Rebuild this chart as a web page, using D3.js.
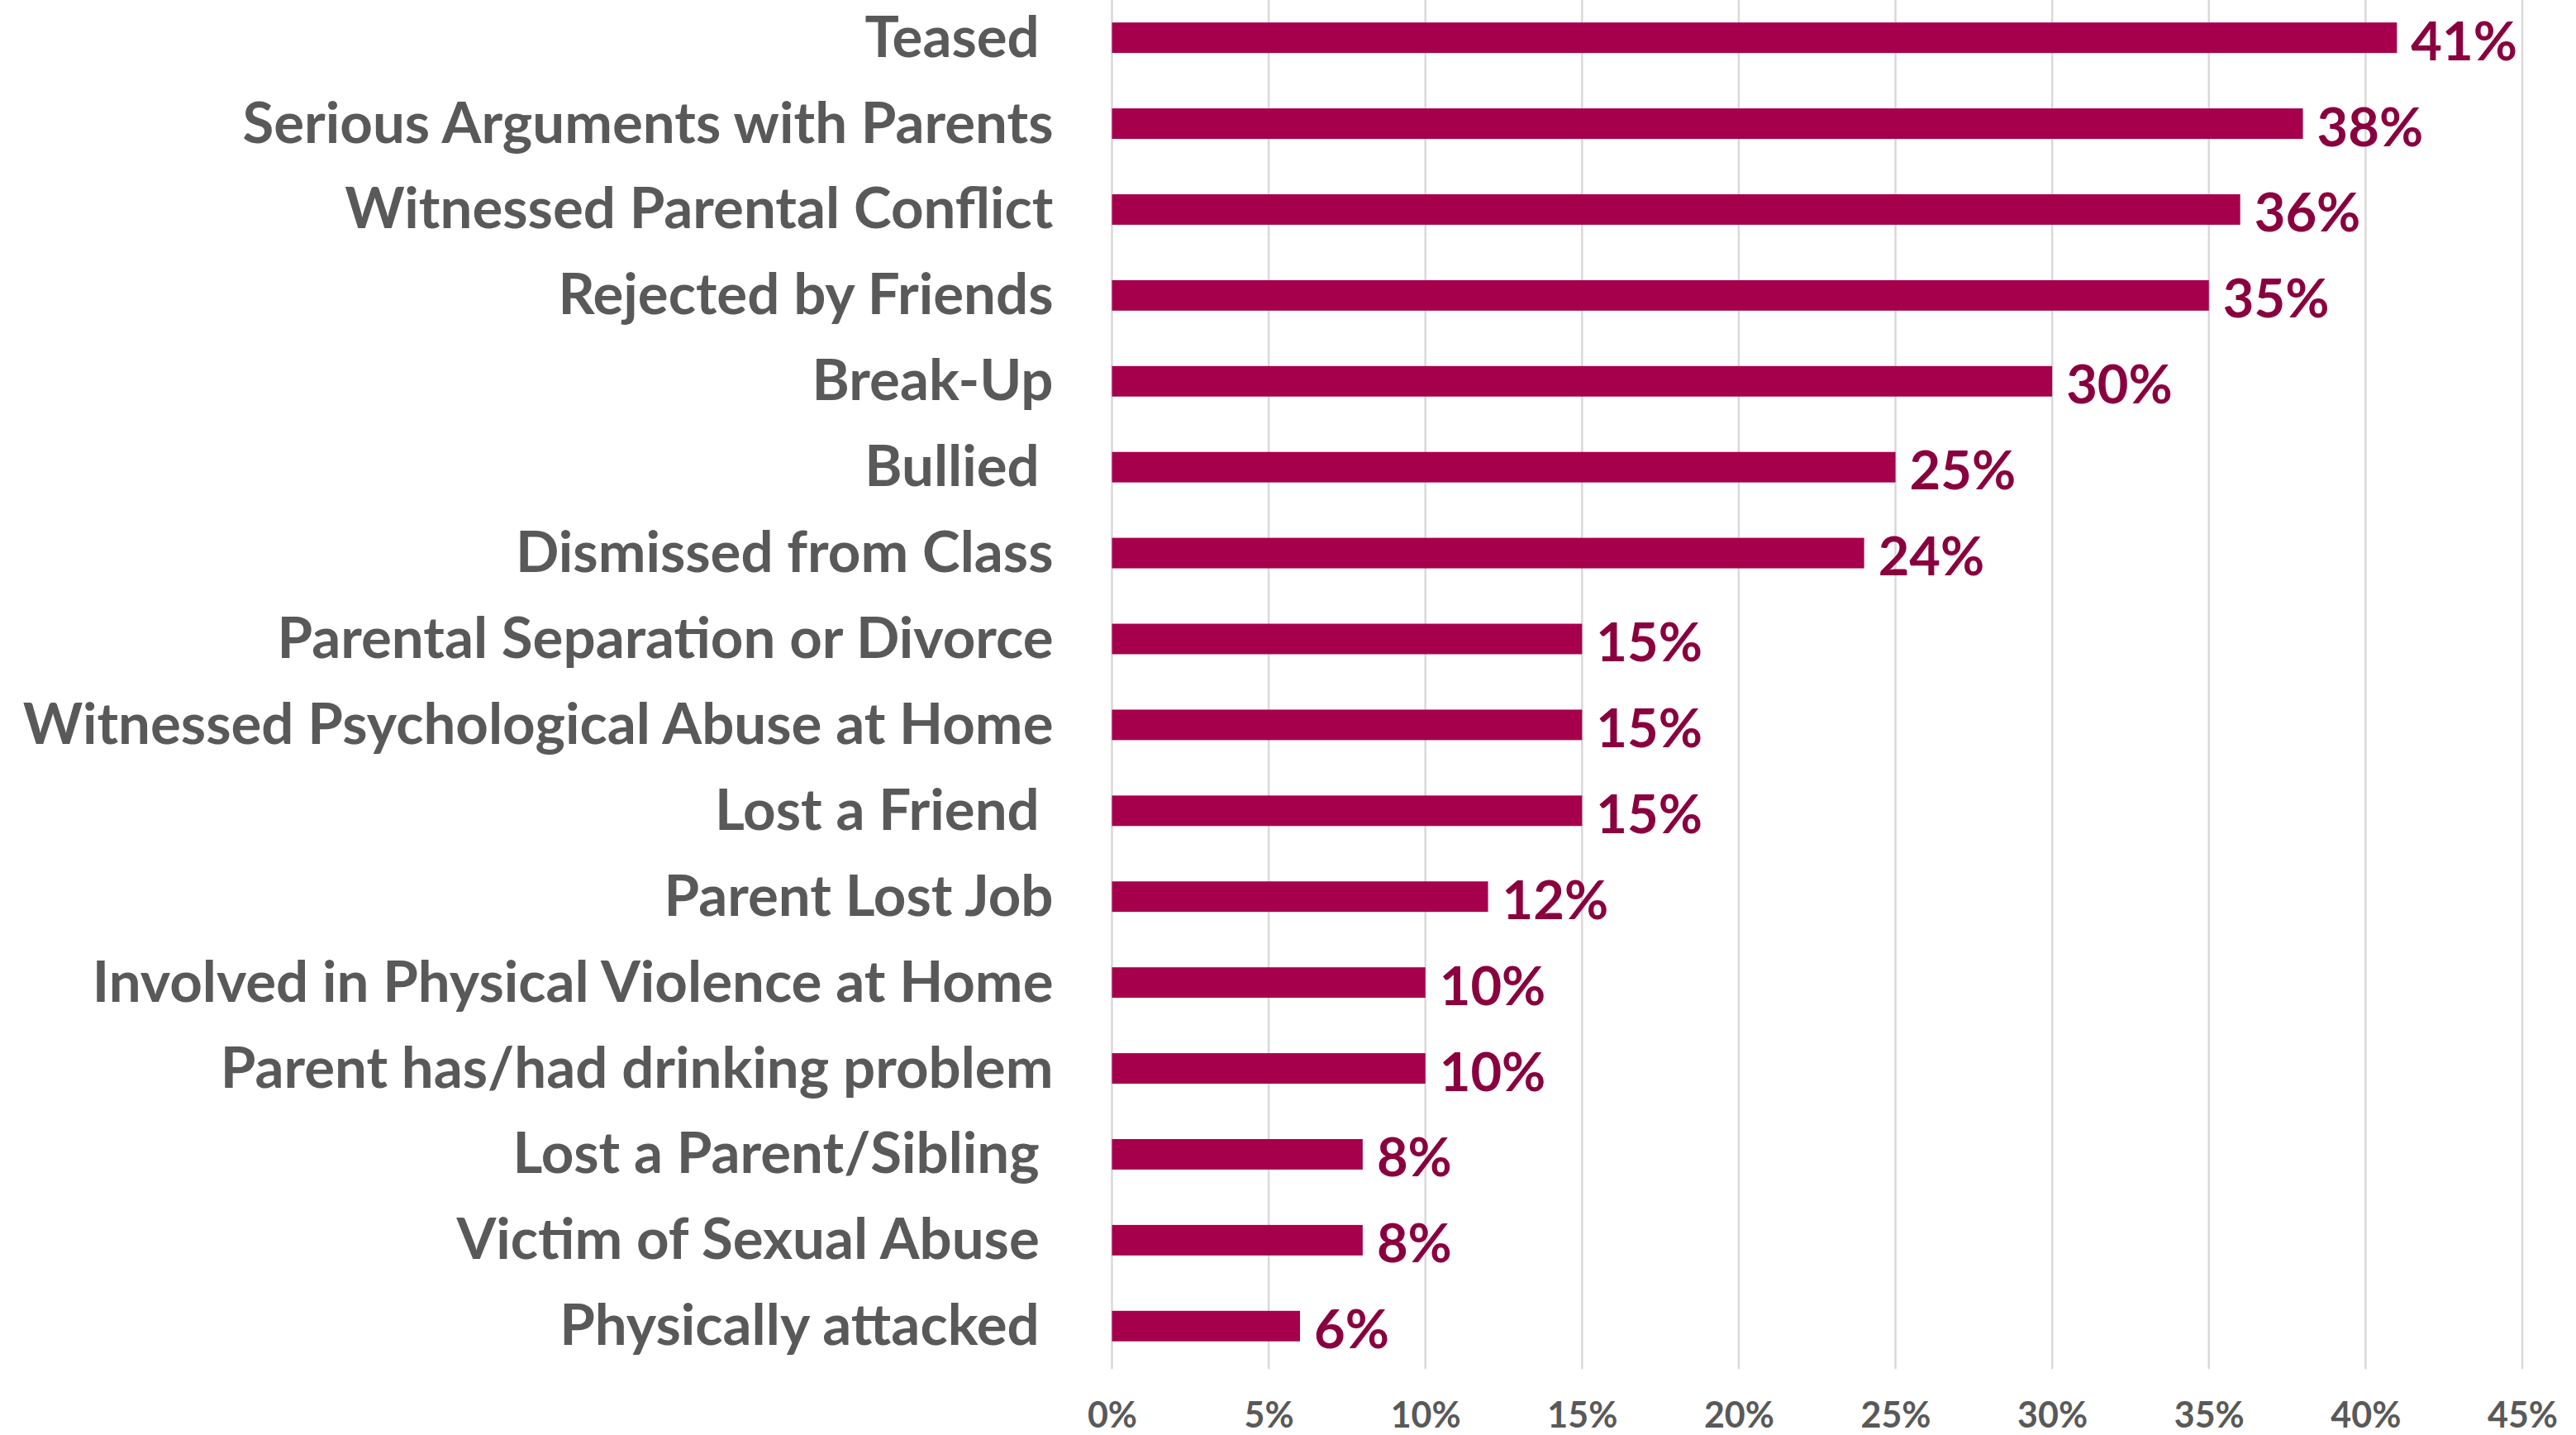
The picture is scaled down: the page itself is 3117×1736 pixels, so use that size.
<!DOCTYPE html>
<html>
<head>
<meta charset="utf-8">
<script src="https://cdn.jsdelivr.net/npm/d3@7/dist/d3.min.js"></script>
<style>
  html, body { margin: 0; padding: 0; background: #ffffff; }
  svg { display: block; }
  text { font-family: Lato, "Open Sans", "Noto Sans", sans-serif; font-weight: 700; }
</style>
</head>
<body>
<div id="chart"></div>
<script>
// Stressful life events reported, share of respondents
const categories = [
  "Teased ",
  "Serious Arguments with Parents",
  "Witnessed Parental Conflict",
  "Rejected by Friends",
  "Break-Up",
  "Bullied ",
  "Dismissed from Class",
  "Parental Separation or Divorce",
  "Witnessed Psychological Abuse at Home",
  "Lost a Friend ",
  "Parent Lost Job",
  "Involved in Physical Violence at Home",
  "Parent has/had drinking problem",
  "Lost a Parent/Sibling ",
  "Victim of Sexual Abuse ",
  "Physically attacked "
];
const values = [0.41, 0.38, 0.36, 0.35, 0.30, 0.25, 0.24, 0.15, 0.15, 0.15, 0.12, 0.10, 0.10, 0.08, 0.08, 0.06];
const xTicks = [0, 0.05, 0.10, 0.15, 0.20, 0.25, 0.30, 0.35, 0.40, 0.45];

const W = 3117, H = 1736;
const barColor = "#A6004C";
const labelColor = "#8A003F";
const textGray = "#595959";
const gridColor = "#D9D9D9";

const svg = d3.select("#chart").append("svg")
  .attr("width", W).attr("height", H)
  .attr("viewBox", `0 0 ${W} ${H}`);

const x = d3.scaleLinear().domain([0, 0.45]).range([1345.5, 3052]);
const y = d3.scaleBand().domain(categories).range([-6.3, 1656.2])
  .paddingInner(0.645).paddingOuter(0.3225);

// vertical gridlines
svg.append("g").selectAll("line").data(xTicks).join("line")
  .attr("x1", d => x(d)).attr("x2", d => x(d))
  .attr("y1", 0).attr("y2", 1656.2)
  .attr("stroke", gridColor).attr("stroke-width", 2.5);

// bars
svg.append("g").selectAll("rect").data(values).join("rect")
  .attr("x", x(0))
  .attr("y", (d, i) => y(categories[i]))
  .attr("width", d => x(d) - x(0))
  .attr("height", y.bandwidth())
  .attr("fill", barColor);

// value labels
svg.append("g").selectAll("text").data(values).join("text")
  .attr("x", d => x(d) + 17)
  .attr("y", (d, i) => y(categories[i]) + y.bandwidth() / 2 + 27)
  .attr("fill", labelColor)
  .style("font-size", "65px")
  .text(d => d3.format(".0%")(d));

// category axis
const yAxis = svg.append("g")
  .attr("transform", `translate(${x(0)},0)`)
  .call(d3.axisLeft(y).tickSize(0).tickPadding(71));
yAxis.select(".domain").remove();
yAxis.selectAll("text")
  .attr("dy", null)
  .attr("y", 23)
  .attr("fill", textGray)
  .style("font-size", "69px")
  .style("font-family", "Lato, 'Open Sans', sans-serif")
  .style("font-weight", 700)
  .style("white-space", "pre");

// percentage axis
const xAxis = svg.append("g")
  .attr("transform", `translate(0,1727)`)
  .call(d3.axisBottom(x).tickValues(xTicks).tickSize(0).tickPadding(0)
    .tickFormat(d3.format(".0%")));
xAxis.select(".domain").remove();
xAxis.selectAll("text")
  .attr("dy", null)
  .attr("y", 0)
  .attr("fill", textGray)
  .style("font-size", "43px")
  .style("font-family", "Lato, 'Open Sans', sans-serif")
  .style("font-weight", 700);
</script>
</body>
</html>
